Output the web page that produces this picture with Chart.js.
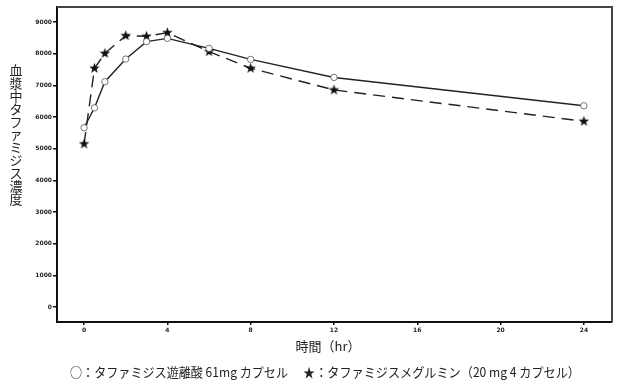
<!DOCTYPE html>
<html>
<head>
<meta charset="utf-8">
<script src="https://cdn.jsdelivr.net/npm/chart.js@4"></script>
<style>
  html, body { margin: 0; padding: 0; background: #fff; }
  #wrap { width: 620px; height: 385px; position: relative; }
</style>
</head>
<body>
<div id="wrap"><canvas id="pkChart" width="620" height="385"></canvas></div>
<script>
// Sampling times (hr)
const times = [0, 0.5, 1, 2, 3, 4, 6, 8, 12, 24];
// Tafamidis free acid 61 mg capsule
const freeAcid = [5660, 6290, 7115, 7830, 8380, 8485, 8170, 7820, 7250, 6355];
// Tafamidis meglumine 20 mg x 4 capsules
const meglumine = [5150, 7540, 8010, 8570, 8550, 8665, 8065, 7540, 6855, 5865];

const xTicks = [0, 4, 8, 12, 16, 20, 24];
const yTicks = [0, 1000, 2000, 3000, 4000, 5000, 6000, 7000, 8000, 9000];

const yTitle = '血漿中タファミジス濃度';
const xTitle = '時間（hr）';
const legendFree = '○：タファミジス遊離酸 61mg カプセル';
const legendMeg = '★：タファミジスメグルミン（20 mg 4 カプセル）';

const jpFont = '"Noto Sans CJK JP", "Noto Sans", sans-serif';

// Filled star marker
function makeStar(r) {
    const c = document.createElement('canvas');
    const size = Math.ceil(r * 2 + 2);
    c.width = size; c.height = size;
    const g = c.getContext('2d');
    g.fillStyle = '#111';
    g.beginPath();
    for (let i = 0; i < 10; i++) {
        const rad = i % 2 === 0 ? r : r * 0.42;
        const a = -Math.PI / 2 + i * Math.PI / 5;
        const px = size / 2 + rad * Math.cos(a);
        const py = size / 2 + rad * Math.sin(a);
        if (i === 0) g.moveTo(px, py); else g.lineTo(px, py);
    }
    g.closePath();
    g.fill();
    return c;
}
const starImg = makeStar(5.5);

// Frame and text outside the axes
const decorPlugin = {
    id: 'decor',
    afterDraw(chart) {
        const { ctx, chartArea: a } = chart;
        ctx.save();
        // top and right frame lines
        ctx.strokeStyle = '#444';
        ctx.lineWidth = 2;
        ctx.beginPath();
        ctx.moveTo(a.left, a.top);
        ctx.lineTo(a.right, a.top);
        ctx.lineTo(a.right, a.bottom);
        ctx.stroke();

        ctx.fillStyle = '#222';
        ctx.textAlign = 'center';
        ctx.textBaseline = 'middle';
        ctx.font = '13px ' + jpFont;
        // stacked vertical y title
        [...yTitle].forEach((ch, i) => {
            ctx.fillText(ch, 16, 70 + i * 12.9);
        });
        // x title
        ctx.fillText(xTitle, 328, 346);
        // legend line
        ctx.textAlign = 'left';
        ctx.fillText(legendFree, 70, 372, 218);
        ctx.fillText(legendMeg, 303, 372, 277);
        ctx.restore();
    }
};

const tickFont = { size: 6, weight: 'bold', family: 'DejaVu Sans' };

new Chart(document.getElementById('pkChart'), {
    type: 'line',
    data: {
        datasets: [
            {
                label: legendFree,
                data: times.map((t, i) => ({ x: t, y: freeAcid[i] })),
                borderColor: '#222',
                borderWidth: 1.4,
                pointStyle: 'circle',
                pointRadius: 3.2,
                pointBorderWidth: 0.8,
                pointBorderColor: '#555',
                pointBackgroundColor: '#fff',
                tension: 0,
                fill: false
            },
            {
                label: legendMeg,
                data: times.map((t, i) => ({ x: t, y: meglumine[i] })),
                borderColor: '#222',
                borderWidth: 1.4,
                borderDash: [12, 7],
                pointStyle: starImg,
                pointRadius: 5,
                tension: 0,
                fill: false
            }
        ]
    },
    options: {
        responsive: false,
        animation: false,
        layout: { padding: { top: 7, right: 8, left: 0, bottom: 0 } },
        plugins: {
            legend: { display: false },
            tooltip: { enabled: false }
        },
        scales: {
            x: {
                type: 'linear',
                min: -1.3,
                max: 25.35,
                afterBuildTicks: s => { s.ticks = xTicks.map(v => ({ value: v })); },
                afterFit: s => { s.height = 63; },
                ticks: {
                    font: tickFont,
                    color: '#222',
                    padding: 2,
                    maxRotation: 0,
                    callback: v => String(v)
                },
                grid: {
                    drawOnChartArea: false,
                    drawTicks: true,
                    tickLength: 3,
                    color: '#111',
                    lineWidth: 1.5
                },
                border: { display: true, color: '#111', width: 2 }
            },
            y: {
                min: -475,
                max: 9475,
                afterBuildTicks: s => { s.ticks = yTicks.map(v => ({ value: v })); },
                afterFit: s => { s.width = 57; },
                ticks: {
                    font: tickFont,
                    color: '#222',
                    padding: 1,
                    callback: v => String(v)
                },
                grid: {
                    drawOnChartArea: false,
                    drawTicks: true,
                    tickLength: 4,
                    color: '#111',
                    lineWidth: 1.5
                },
                border: { display: true, color: '#111', width: 2 }
            }
        }
    },
    plugins: [decorPlugin]
});
</script>
</body>
</html>
